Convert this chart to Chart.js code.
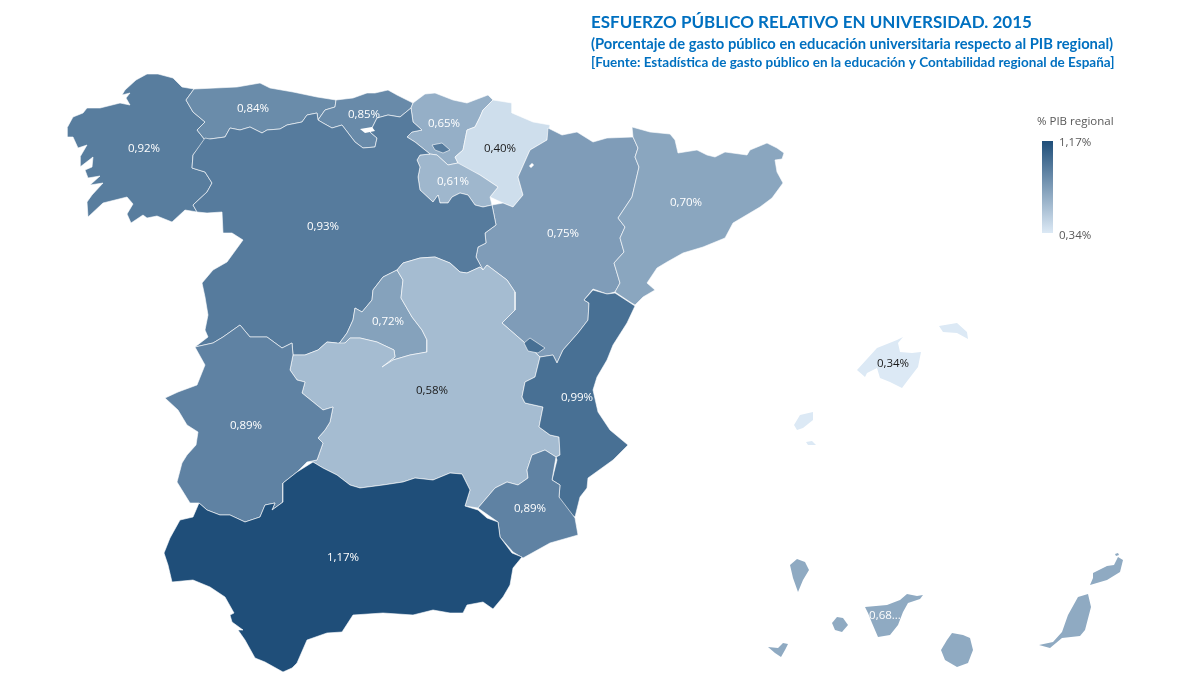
<!DOCTYPE html>
<html>
<head>
<meta charset="utf-8">
<title>Esfuerzo público relativo en universidad. 2015</title>
<script src="https://cdn.jsdelivr.net/npm/chart.js@4/dist/chart.umd.min.js"></script>
<style>
  html, body { margin: 0; padding: 0; background: #fff; }
  canvas { display: block; }
</style>
</head>
<body>
<canvas id="myChart" width="1200" height="675"></canvas>
<script>
// values
var regions = ['Galicia', 'Asturias', 'Cantabria', 'País Vasco', 'Navarra', 'La Rioja', 'Aragón', 'Cataluña', 'Castilla y León', 'Madrid', 'Castilla-La Mancha', 'Extremadura', 'C. Valenciana', 'Murcia', 'Andalucía', 'Canarias', 'Baleares'];
var gdpShare = [0.92, 0.84, 0.85, 0.65, 0.40, 0.61, 0.75, 0.70, 0.93, 0.72, 0.58, 0.89, 0.99, 0.89, 1.17, 0.68, 0.34];
var shareLabels = ['0,92%', '0,84%', '0,85%', '0,65%', '0,40%', '0,61%', '0,75%', '0,70%', '0,93%', '0,72%', '0,58%', '0,89%', '0,99%', '0,89%', '1,17%', '0,68...', '0,34%'];
var scaleLabels = ['1,17%', '0,34%'];
var islandRegions = ['Canarias', 'Baleares'];

// outlines, in map units
var galicia = [[194,89],[182,87],[173,78],[158,74],[147,74],[136,80],[125,90],[122,95],[130,93],[126,98],[130,105],[120,103],[100,108],[87,108],[83,113],[73,117],[67,128],[67,137],[73,137],[78,148],[87,145],[80,157],[80,167],[93,157],[92,167],[85,170],[88,178],[100,176],[90,185],[103,183],[92,195],[87,202],[88,217],[103,203],[127,197],[133,204],[127,214],[131,223],[143,215],[147,218],[157,216],[172,222],[185,210],[197,212],[193,205],[207,192],[212,183],[205,172],[192,168],[193,155],[205,140],[197,130],[205,122],[193,112],[186,100]];
var asturias = [[194,89],[237,87],[260,83],[270,88],[293,92],[317,97],[336,100],[335,107],[325,110],[318,120],[317,113],[307,115],[302,122],[287,125],[280,129],[267,130],[262,133],[250,127],[240,130],[230,128],[225,137],[210,139],[205,140],[197,130],[205,122],[193,112],[186,100]];
var cantabria = [[336,100],[353,98],[367,93],[375,93],[388,90],[397,95],[413,103],[411,108],[400,117],[388,115],[377,118],[370,132],[377,138],[375,147],[363,148],[355,142],[342,125],[332,128],[323,123],[318,120],[325,110],[335,107]];
var paisVasco = [[413,103],[425,94],[435,93],[453,100],[467,103],[488,95],[493,100],[483,110],[480,117],[475,127],[467,130],[463,150],[455,157],[458,163],[448,165],[437,155],[430,154],[415,142],[407,137],[412,132],[422,130],[413,122],[411,108]];
var navarra = [[493,100],[512,103],[512,113],[533,122],[550,125],[547,140],[530,150],[518,177],[523,195],[513,207],[503,203],[490,197],[498,187],[480,175],[457,165],[458,163],[455,157],[463,150],[467,130],[475,127],[480,117],[483,110]];
var laRioja = [[420,155],[430,154],[437,155],[448,165],[458,163],[480,175],[498,187],[490,197],[492,205],[483,207],[475,205],[468,195],[460,193],[452,197],[448,203],[440,203],[438,195],[433,202],[420,190],[418,177],[420,167],[417,160]];
var aragon = [[548,128],[562,135],[577,132],[593,142],[607,138],[633,137],[638,148],[635,157],[639,167],[632,197],[618,218],[625,227],[620,238],[624,252],[614,263],[620,283],[615,292],[607,294],[593,289],[584,300],[589,303],[588,320],[578,333],[563,350],[557,363],[553,355],[540,357],[525,343],[502,323],[515,310],[515,292],[507,280],[487,265],[483,270],[476,257],[478,247],[486,243],[485,233],[496,225],[492,205],[503,203],[513,207],[523,195],[518,177],[530,150],[547,140]];
var cataluna = [[632,127],[650,132],[670,134],[675,140],[678,153],[697,150],[707,155],[715,157],[725,152],[747,155],[750,150],[767,143],[777,148],[784,153],[782,159],[775,160],[777,172],[783,183],[772,198],[760,207],[733,223],[725,238],[703,247],[683,253],[667,262],[657,268],[647,283],[655,290],[643,297],[635,305],[630,302],[615,292],[620,283],[614,263],[624,252],[620,238],[625,227],[618,218],[632,197],[639,167],[635,157],[638,148],[633,137]];
var castillaLeon = [[205,138],[210,139],[225,137],[230,128],[240,130],[250,127],[262,133],[267,130],[280,129],[287,125],[302,122],[307,115],[317,113],[318,120],[323,123],[332,128],[342,125],[355,142],[363,148],[375,147],[377,138],[370,132],[377,118],[388,115],[400,117],[411,108],[413,122],[422,130],[412,132],[407,137],[415,142],[430,154],[420,155],[417,160],[420,167],[418,177],[420,190],[433,202],[438,195],[440,203],[448,203],[452,197],[460,193],[468,195],[475,205],[483,207],[492,205],[496,225],[485,233],[486,243],[478,247],[476,257],[483,270],[480,267],[467,273],[460,272],[450,263],[435,257],[420,258],[403,263],[397,270],[383,277],[373,290],[372,300],[362,312],[355,308],[353,320],[347,333],[338,345],[337,343],[327,342],[318,350],[305,355],[293,355],[292,343],[282,348],[267,337],[250,337],[240,325],[223,337],[213,343],[195,347],[208,337],[205,330],[208,315],[205,297],[202,283],[213,270],[227,262],[243,240],[232,233],[223,233],[222,212],[207,213],[197,212],[193,205],[207,192],[212,183],[205,172],[192,168],[193,155]];
var madrid = [[397,270],[403,280],[401,298],[412,317],[422,330],[427,340],[427,352],[410,355],[393,360],[382,367],[395,357],[394,350],[377,342],[360,338],[350,338],[345,343],[338,345],[347,333],[353,320],[355,308],[362,312],[372,300],[373,290],[383,277]];
var castillaMancha = [[397,270],[403,263],[420,258],[435,257],[450,263],[460,272],[467,273],[480,267],[483,270],[487,265],[507,280],[515,292],[515,310],[502,323],[525,343],[540,357],[535,377],[525,382],[522,397],[525,403],[543,407],[539,427],[550,435],[559,437],[560,455],[556,457],[545,450],[532,455],[527,470],[528,478],[518,485],[507,482],[495,488],[478,508],[465,506],[470,490],[462,474],[450,473],[433,480],[415,478],[403,482],[383,485],[360,488],[350,485],[337,475],[323,468],[313,462],[307,462],[317,460],[323,443],[318,438],[325,430],[330,422],[333,407],[323,410],[302,393],[305,382],[297,380],[290,370],[293,355],[305,355],[318,350],[327,342],[337,343],[345,343],[350,338],[360,338],[377,342],[394,350],[395,357],[382,367],[393,360],[410,355],[427,352],[427,340],[422,330],[412,317],[401,298],[403,280]];
var extremadura = [[195,347],[213,343],[223,337],[240,325],[250,337],[267,337],[282,348],[292,343],[293,355],[290,370],[297,380],[305,382],[302,393],[323,410],[333,407],[330,422],[325,430],[318,438],[323,443],[317,460],[307,462],[297,472],[283,483],[283,502],[272,510],[275,503],[265,505],[260,517],[245,522],[230,515],[220,515],[207,510],[199,503],[190,503],[177,482],[182,463],[187,455],[196,445],[198,432],[187,425],[178,410],[165,398],[178,392],[197,385],[205,365]];
var valencia = [[593,290],[607,294],[615,293],[635,306],[627,323],[613,345],[607,360],[597,377],[593,390],[598,412],[610,430],[628,445],[613,460],[588,478],[587,488],[580,497],[575,517],[563,510],[559,497],[560,485],[552,480],[557,460],[556,457],[560,455],[559,437],[550,435],[539,427],[543,407],[525,403],[522,397],[525,382],[535,377],[540,357],[553,355],[557,363],[563,350],[578,333],[588,320],[589,303],[584,300]];
var murcia = [[545,450],[556,457],[552,480],[560,485],[559,497],[575,518],[578,535],[550,543],[523,558],[513,552],[500,537],[498,522],[478,508],[495,488],[507,482],[518,485],[528,478],[527,470],[532,455]];
var andalucia = [[313,462],[323,468],[337,475],[350,485],[360,488],[383,485],[403,482],[415,478],[433,480],[450,473],[462,474],[470,490],[465,506],[478,510],[487,518],[498,522],[500,537],[512,553],[522,557],[513,568],[510,585],[503,597],[493,609],[483,602],[467,605],[463,613],[450,613],[433,610],[413,615],[383,613],[353,615],[342,632],[327,633],[307,640],[297,663],[292,668],[283,672],[265,662],[255,658],[245,640],[238,630],[243,630],[232,622],[230,615],[234,613],[225,597],[210,587],[193,580],[172,582],[168,565],[164,553],[170,538],[180,520],[193,517],[199,503],[207,510],[220,515],[230,515],[245,522],[260,517],[265,505],[275,503],[272,510],[283,502],[283,483],[297,472]];
var trevino = [[432,145],[442,143],[450,150],[443,153],[435,150]];
var ademuz = [[530,338],[545,348],[538,353],[528,351],[524,343]];
var ebroReservoir = [[360,129],[372,127],[375,131],[365,133]];
var petilla = [[529,166],[532,163],[534,165],[531,168]];
var laPalma = [[790,565],[797,559],[805,562],[809,570],[803,580],[798,592],[793,578]];
var gomera = [[832,623],[837,617],[843,618],[848,625],[842,632],[835,630]];
var hierro = [[768,647],[778,648],[783,643],[788,644],[785,650],[781,657],[775,653]];
var tenerife = [[865,607],[887,605],[900,600],[907,594],[917,596],[923,595],[920,599],[908,603],[903,612],[898,625],[890,635],[878,637],[872,623],[868,613]];
var granCanaria = [[952,633],[963,635],[970,638],[973,650],[968,663],[957,667],[945,660],[941,650],[947,640]];
var fuerteventura = [[1078,597],[1088,594],[1091,607],[1085,630],[1080,636],[1062,638],[1050,648],[1039,645],[1053,642],[1062,632],[1068,615]];
var lanzarote = [[1093,573],[1107,566],[1114,565],[1118,557],[1123,560],[1120,572],[1107,580],[1090,585],[1093,578]];
var graciosa = [[1115,554],[1118,553],[1119,555],[1116,556]];
var mallorca = [[857,370],[877,348],[897,340],[903,337],[898,343],[900,352],[912,353],[921,352],[918,367],[908,380],[902,388],[890,382],[880,378],[877,368],[867,373],[865,377]];
var menorca = [[939,326],[957,323],[967,332],[968,339],[957,333],[943,332]];
var ibiza = [[794,425],[800,415],[813,412],[813,420],[803,428],[797,430]];
var formentera = [[806,442],[812,441],[816,445],[808,445]];

var outlines = [[galicia], [asturias], [cantabria], [paisVasco], [navarra], [laRioja], [aragon], [cataluna], [castillaLeon, trevino], [madrid], [castillaMancha], [extremadura], [valencia, ademuz], [murcia], [andalucia], [laPalma, gomera, hierro, tenerife, granCanaria, fuerteventura, lanzarote, graciosa], [mallorca, menorca, ibiza, formentera]];

// where each value label sits
var labelPoints = [[144,149],[253,109],[364,115],[444,124],[500,149],[453,182],[563,234],[686,203],[323,227],[388,322],[432,391],[246,426],[577,398],[530,509],[343,558],[885,616],[893,364]];

var minShare = 0.34, maxShare = 1.17;
var lowColor = [220, 233, 245], highColor = [31, 78, 121];

function shareColor(v) {
    var t = (v - minShare) / (maxShare - minShare);
    var c = lowColor.map(function (low, i) { return Math.round(low + (highColor[i] - low) * t); });
    return 'rgb(' + c.join(',') + ')';
}

function toPoints(outline) {
    return outline.concat([outline[0]]).map(function (p) { return { x: p[0], y: p[1] }; });
}

function shapeDataset(name, outline, color, lineWidth) {
    return {
        label: name,
        data: toPoints(outline),
        showLine: true,
        fill: 'shape',
        tension: 0,
        pointRadius: 0,
        backgroundColor: color,
        borderColor: 'rgba(255,255,255,0.75)',
        borderWidth: lineWidth,
        borderJoinStyle: 'round'
    };
}

var datasets = [];
regions.forEach(function (name, i) {
    var lineWidth = islandRegions.indexOf(name) >= 0 ? 0 : 0.8;
    outlines[i].forEach(function (outline) {
        datasets.push(shapeDataset(name, outline, shareColor(gdpShare[i]), lineWidth));
    });
});
// small holes go on top of the big shapes
datasets.push(shapeDataset('Embalse del Ebro', ebroReservoir, '#ffffff', 0));
datasets.push(shapeDataset('Petilla', petilla, '#ffffff', 0));
datasets.forEach(function (d, i) { d.order = datasets.length - i; });

var labelsDataset = {
    label: 'labels',
    data: labelPoints.map(function (p) { return { x: p[0], y: p[1] }; }),
    pointRadius: 0,
    order: 0
};
datasets.push(labelsDataset);

var mapText = {
    id: 'mapText',
    afterDraw: function (chart) {
        var ctx = chart.ctx;
        var points = chart.getDatasetMeta(datasets.length - 1).data;
        ctx.save();
        ctx.textBaseline = 'middle';
        ctx.textAlign = 'center';
        ctx.font = '11.5px "Open Sans"';
        shareLabels.forEach(function (text, i) {
            ctx.fillStyle = gdpShare[i] <= 0.58 ? '#1a1a1a' : '#ffffff';
            ctx.fillText(text, points[i].x, points[i].y);
        });

        // titles
        ctx.textAlign = 'left';
        ctx.textBaseline = 'alphabetic';
        ctx.fillStyle = '#0070c0';
        ctx.font = 'bold 17px Lato';
        ctx.fillText('ESFUERZO PÚBLICO RELATIVO EN UNIVERSIDAD. 2015', 591, 28);
        ctx.font = 'bold 14.75px Lato';
        ctx.fillText('(Porcentaje de gasto público en educación universitaria respecto al PIB regional)', 591, 49);
        ctx.font = 'bold 13.5px Lato';
        ctx.fillText('[Fuente: Estadística de gasto público en la educación y Contabilidad regional de España]', 591, 67);

        // colour scale
        var grad = ctx.createLinearGradient(0, 141, 0, 233);
        grad.addColorStop(0, shareColor(maxShare));
        grad.addColorStop(1, shareColor(minShare));
        ctx.fillStyle = grad;
        ctx.fillRect(1042, 141, 11, 92);
        ctx.fillStyle = '#595959';
        ctx.font = '11.5px "Open Sans"';
        ctx.fillText('% PIB regional', 1037, 125);
        ctx.fillText(scaleLabels[0], 1059, 146);
        ctx.fillText(scaleLabels[1], 1059, 239);
        ctx.restore();
    }
};

var chart = new Chart(document.getElementById('myChart').getContext('2d'), {
    type: 'scatter',
    data: { datasets: datasets },
    plugins: [mapText],
    options: {
        responsive: false,
        animation: false,
        layout: { padding: 0 },
        scales: {
            x: { type: 'linear', min: 0, max: 1200, display: false },
            y: { type: 'linear', min: 0, max: 675, reverse: true, display: false }
        },
        plugins: {
            legend: { display: false },
            title: { display: false },
            tooltip: { enabled: false }
        }
    }
});
</script>
</body>
</html>
